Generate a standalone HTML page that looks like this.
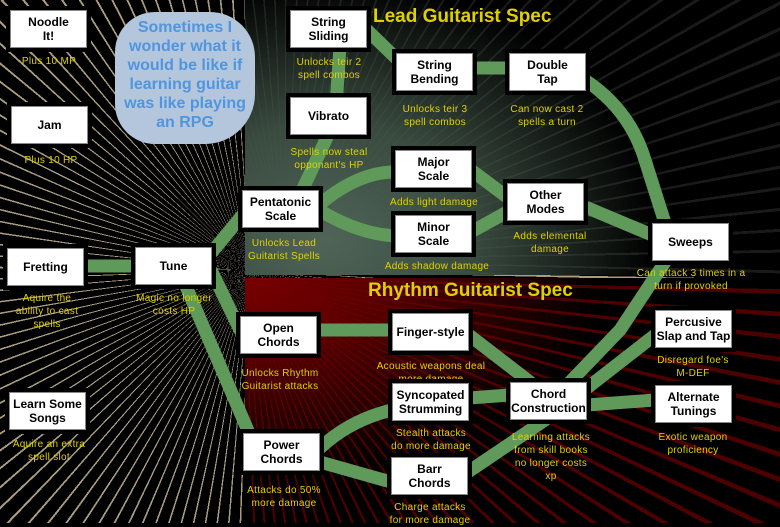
<!DOCTYPE html>
<html><head><meta charset="utf-8"><style>
body{margin:0;width:780px;height:523px;overflow:hidden;background:#000;font-family:"Liberation Sans",sans-serif}
.bg{position:absolute;left:0;top:0;width:780px;height:523px;background:repeating-conic-gradient(from 0deg at 250px 270px,#a89c7c 0 0.35deg,#000 0.35deg 2.6deg)}
.lead{position:absolute;left:245px;top:0;width:535px;height:275px;background:radial-gradient(ellipse 330px 260px at 80px 240px,rgba(80,100,88,1) 0,rgba(60,78,66,0.95) 45%,rgba(0,0,0,0.75) 100%),repeating-conic-gradient(from 0deg at 40px 260px,#666 0 0.35deg,#000 0.35deg 2.4deg)}
.rhy{position:absolute;left:245px;top:278px;width:535px;height:245px;background:radial-gradient(ellipse 360px 200px at 0 0,rgba(120,0,0,1) 0,rgba(100,0,0,0.9) 35%,rgba(0,0,0,0.55) 100%),repeating-conic-gradient(from 0deg at 0 0,#a00 0 0.5deg,#000 0.5deg 2.4deg)}
.n{position:absolute;background:#fff;border:1px solid #888;box-shadow:0 0 0 4px #000;width:75px;height:36px;display:flex;align-items:center;justify-content:center;text-align:center;font-weight:bold;font-size:12px;line-height:14px;color:#000}
.c{position:absolute;color:#e0d000;font-size:10px;line-height:13px;text-align:center;width:130px;letter-spacing:0.3px}
.h{position:absolute;color:#e0d000;font-weight:bold;font-size:19px}
.cloud{position:absolute;left:115px;top:12px;width:140px;height:132px;background:#b4c6dc;border-radius:40px 45px 50px 40px;color:#4f95e0;font-weight:bold;font-size:16px;line-height:19px;text-align:center;padding-top:6px;box-sizing:border-box}
</style></head><body>
<div class="bg"></div><div class="lead"></div><div class="rhy"></div>
<svg width="780" height="523" style="position:absolute;left:0;top:0" fill="none" stroke="#5f9a5a" stroke-width="13" stroke-linejoin="round" stroke-linecap="round">
<path d="M82 266H135"/>
<path d="M212 252L245 212"/>
<path d="M212 272L240 330"/>
<path d="M185 284L252 440"/>
<path d="M300 195L335 120L340 47"/>
<path d="M367 30L400 62"/>
<path d="M472 68H509"/>
<path d="M585 80Q630 110 645 160L665 223"/>
<path d="M319 205Q360 170 400 172"/>
<path d="M319 210Q360 235 398 236"/>
<path d="M471 170L507 197"/>
<path d="M471 232L507 212"/>
<path d="M583 206L652 235"/>
<path d="M665 262L620 330L570 382"/>
<path d="M317 330H392"/>
<path d="M469 335L530 382"/>
<path d="M469 398L510 395"/>
<path d="M320 448Q350 420 392 410"/>
<path d="M320 462L391 482"/>
<path d="M468 472L545 420"/>
<path d="M587 388L655 335"/>
<path d="M587 405L655 400"/>
</svg>
<div class="cloud">Sometimes I wonder what it would be like if learning guitar was like playing an RPG</div>
<div class="h" style="left:373px;top:6px">Lead Guitarist Spec</div>
<div class="h" style="left:368px;top:280px">Rhythm Guitarist Spec</div>

<div class="n" style="left:10px;top:10px">Noodle<br>It!</div><div class="c" style="left:-16px;top:55px">Plus 10 MP</div>
<div class="n" style="left:11px;top:106px">Jam</div><div class="c" style="left:-14px;top:154px">Plus 10 HP</div>
<div class="n" style="left:7px;top:248px">Fretting</div><div class="c" style="left:-18px;top:292px">Aquire the<br>ability to cast<br>spells</div>
<div class="n" style="left:135px;top:247px">Tune</div><div class="c" style="left:109px;top:292px">Magic no longer<br>costs HP</div>
<div class="n" style="left:9px;top:392px">Learn Some<br>Songs</div><div class="c" style="left:-16px;top:438px">Aquire an extra<br>spell slot</div>
<div class="n" style="left:290px;top:10px">String<br>Sliding</div><div class="c" style="left:264px;top:56px">Unlocks teir 2<br>spell combos</div>
<div class="n" style="left:290px;top:97px">Vibrato</div><div class="c" style="left:264px;top:146px">Spells now steal<br>opponant's HP</div>
<div class="n" style="left:242px;top:190px">Pentatonic<br>Scale</div><div class="c" style="left:219px;top:237px">Unlocks Lead<br>Guitarist Spells</div>
<div class="n" style="left:396px;top:53px">String<br>Bending</div><div class="c" style="left:370px;top:103px">Unlocks teir 3<br>spell combos</div>
<div class="n" style="left:509px;top:53px">Double<br>Tap</div><div class="c" style="left:482px;top:103px">Can now cast 2<br>spells a turn</div>
<div class="n" style="left:395px;top:150px">Major<br>Scale</div><div class="c" style="left:369px;top:196px">Adds light damage</div>
<div class="n" style="left:395px;top:215px">Minor<br>Scale</div><div class="c" style="left:372px;top:260px">Adds shadow damage</div>
<div class="n" style="left:507px;top:183px">Other<br>Modes</div><div class="c" style="left:485px;top:230px">Adds elemental<br>damage</div>
<div class="n" style="left:652px;top:223px">Sweeps</div><div class="c" style="left:626px;top:267px">Can attack 3 times in a<br>turn if provoked</div>
<div class="n" style="left:240px;top:316px">Open<br>Chords</div><div class="c" style="left:215px;top:367px">Unlocks Rhythm<br>Guitarist attacks</div>
<div class="n" style="left:392px;top:313px">Finger-style</div><div class="c" style="left:366px;top:360px">Acoustic weapons deal<br>more damage</div>
<div class="n" style="left:392px;top:383px">Syncopated<br>Strumming</div><div class="c" style="left:366px;top:427px">Stealth attacks<br>do more damage</div>
<div class="n" style="left:510px;top:382px">Chord<br>Construction</div><div class="c" style="left:486px;top:431px">Learning attacks<br>from skill books<br>no longer costs<br>xp</div>
<div class="n" style="left:655px;top:310px">Percusive<br>Slap and Tap</div><div class="c" style="left:628px;top:354px">Disregard foe's<br>M-DEF</div>
<div class="n" style="left:655px;top:385px">Alternate<br>Tunings</div><div class="c" style="left:628px;top:431px">Exotic weapon<br>proficiency</div>
<div class="n" style="left:243px;top:433px">Power<br>Chords</div><div class="c" style="left:219px;top:484px">Attacks do 50%<br>more damage</div>
<div class="n" style="left:391px;top:457px">Barr<br>Chords</div><div class="c" style="left:365px;top:501px">Charge attacks<br>for more damage</div>
</body></html>
